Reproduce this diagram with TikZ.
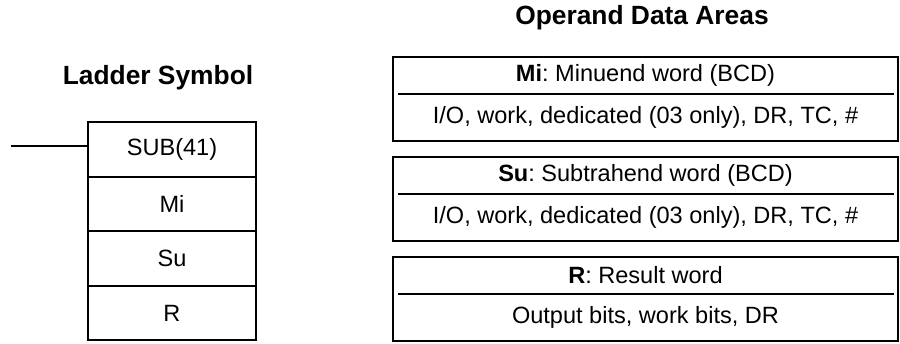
\documentclass[tikz,border=0pt]{standalone}
\usepackage{fontspec}
\setmainfont{Liberation Sans}
\usetikzlibrary{positioning}
\frenchspacing

\begin{document}
\begin{tikzpicture}[
  node distance=0cm,
  title/.style={font=\fontsize{15}{18}\selectfont\bfseries},
  cell/.style={draw,line width=1.2pt,outer sep=0pt,minimum width=3.36cm,minimum height=1.09cm,font=\fontsize{13.4}{16}\selectfont},
  ophead/.style={outer sep=0pt,minimum width=10.1cm,minimum height=0.74cm,font=\fontsize{13.4}{16}\selectfont},
  opbody/.style={outer sep=0pt,minimum width=10.1cm,minimum height=0.94cm,font=\fontsize{13.4}{16}\selectfont},
  frame/.style={line width=1.2pt},
  rule/.style={line width=1.2pt}
]
  \useasboundingbox (0,0) rectangle (18,-6.86);
  % ladder symbol
  \node[title] (laddertitle) at (3.16,-1.56) {Ladder Symbol};
  \node[cell] (sub) at (3.44,-2.99) {SUB(41)};
  \node[cell,below=of sub] (mi) {Mi};
  \node[cell,below=of mi] (su) {Su};
  \node[cell,below=of su] (res) {R};
  \coordinate (rung) at (0.22,-2.92);
  \draw[line width=1.2pt] (rung) -- (rung -| sub.west);
  % operand data areas
  \node[title] (optitle) at (12.84,-0.36) {Operand Data Areas};
  \node[ophead,anchor=north] (mihead) at (12.91,-1.14) {\textbf{Mi}: Minuend word (BCD)};
  \node[opbody,below=of mihead] (mibody) {I/O, work, dedicated (03 only), DR, TC, \#};
  \node[ophead,anchor=north] (suhead) at (12.91,-3.14) {\textbf{Su}: Subtrahend word (BCD)};
  \node[opbody,below=of suhead] (subody) {I/O, work, dedicated (03 only), DR, TC, \#};
  \node[ophead,anchor=north] (rhead) at (12.91,-5.14) {\textbf{R}: Result word};
  \node[opbody,below=of rhead] (rbody) {Output bits, work bits, DR};
  \draw[frame] (mihead.north west) rectangle (mibody.south east);
  \draw[frame] (suhead.north west) rectangle (subody.south east);
  \draw[frame] (rhead.north west) rectangle (rbody.south east);
  \draw[rule] ([xshift=3pt]mihead.south west) -- ([xshift=-2pt]mihead.south east);
  \draw[rule] ([xshift=3pt]suhead.south west) -- ([xshift=-2pt]suhead.south east);
  \draw[rule] ([xshift=3pt]rhead.south west) -- ([xshift=-2pt]rhead.south east);
\end{tikzpicture}
\end{document}
